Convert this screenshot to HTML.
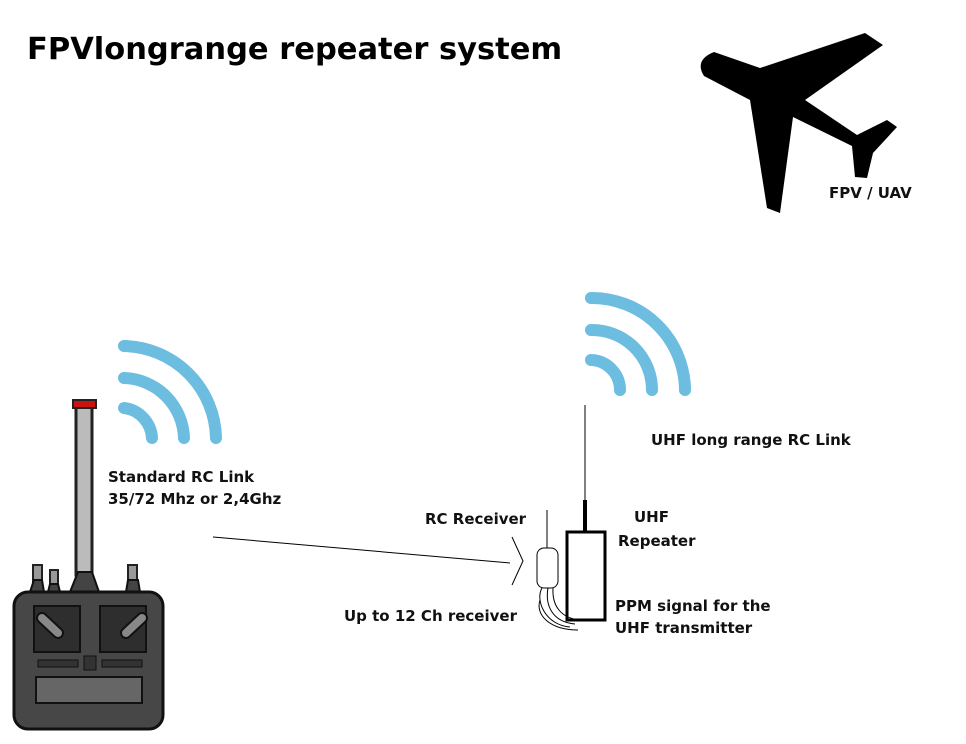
<!DOCTYPE html>
<html><head><style>
body{margin:0;width:966px;height:744px;background:#fff;overflow:hidden;position:relative;font-family:"DejaVu Sans","Liberation Sans",sans-serif}
.t{position:absolute;font-weight:bold;font-size:15px;color:#111;white-space:nowrap;line-height:22px}
</style></head><body>
<svg width="966" height="744" style="position:absolute;left:0;top:0">
<g fill="none" stroke="#6dbde0" stroke-width="12" stroke-linecap="round">
<path d="M124 408 A32 32 0 0 1 152 438"/>
<path d="M124 378 A62 62 0 0 1 184 438"/>
<path d="M124 346 A94 94 0 0 1 216 438"/>
<path d="M591 360 A30 30 0 0 1 620 390"/>
<path d="M591 330 A60 60 0 0 1 652 390"/>
<path d="M591 298 A93 93 0 0 1 685 390"/>
</g>
<path d="M714 52 L760 68 L865 33 L883 45 L805 100 L857 135 L887 120 L897 127 L873 153 L867 178 L855 177 L852 146 L793 117 L780 213 L767 208 L750 100 L704 76 Q694 60 714 52 Z" fill="#000"/>
<line x1="213" y1="537" x2="510" y2="563" stroke="#000" stroke-width="1"/>
<path d="M512 537 L523 561 L512 585" fill="none" stroke="#000" stroke-width="1"/>
<line x1="585" y1="405" x2="585" y2="502" stroke="#000" stroke-width="1"/>
<line x1="585" y1="500" x2="585" y2="532" stroke="#000" stroke-width="4"/>
<rect x="567" y="532" width="38" height="88" fill="#fff" stroke="#000" stroke-width="3"/>
<line x1="547" y1="510" x2="547" y2="548" stroke="#000" stroke-width="1"/>
<rect x="537" y="548" width="21" height="40" rx="7" fill="#fff" stroke="#000" stroke-width="1"/>
<path d="M542 588 C535 600 545 625 570 627 M548 588 C545 605 552 622 575 624 M553 588 C552 605 560 618 580 620 M540 600 C535 615 550 630 578 630" fill="none" stroke="#000" stroke-width="1"/>
<rect x="76" y="405" width="16" height="170" fill="#bbb" stroke="#222" stroke-width="3"/>
<rect x="73" y="400" width="23" height="8" fill="#c11" stroke="#222" stroke-width="2"/>
<path d="M70 592 L78 572 L92 572 L99 592 Z" fill="#444" stroke="#111" stroke-width="2"/>
<rect x="33" y="565" width="9" height="17" fill="#999" stroke="#222" stroke-width="2"/>
<rect x="50" y="570" width="8" height="14" fill="#999" stroke="#222" stroke-width="2"/>
<rect x="128" y="565" width="9" height="17" fill="#999" stroke="#222" stroke-width="2"/>
<path d="M30 592 L34 580 L42 580 L44 592 Z M48 592 L50 584 L58 584 L60 592 Z M126 592 L128 580 L138 580 L140 592 Z" fill="#444" stroke="#111" stroke-width="2"/>
<rect x="14" y="592" width="149" height="137" rx="14" fill="#474747" stroke="#111" stroke-width="3"/>
<rect x="34" y="606" width="46" height="46" fill="#2e2e2e" stroke="#111" stroke-width="2"/>
<rect x="100" y="606" width="46" height="46" fill="#2e2e2e" stroke="#111" stroke-width="2"/>
<line x1="42" y1="618" x2="58" y2="633" stroke="#111" stroke-width="12" stroke-linecap="round"/>
<line x1="42" y1="618" x2="58" y2="633" stroke="#888" stroke-width="8" stroke-linecap="round"/>
<line x1="142" y1="618" x2="126" y2="633" stroke="#111" stroke-width="12" stroke-linecap="round"/>
<line x1="142" y1="618" x2="126" y2="633" stroke="#888" stroke-width="8" stroke-linecap="round"/>
<rect x="38" y="660" width="40" height="7" fill="#333" stroke="#111"/>
<rect x="102" y="660" width="40" height="7" fill="#333" stroke="#111"/>
<rect x="84" y="656" width="12" height="14" fill="#333" stroke="#111"/>
<rect x="36" y="677" width="106" height="26" fill="#666" stroke="#111" stroke-width="2"/>
</svg>
<div class="t" style="left:27px;top:29px;font-size:30.5px;line-height:42px;font-weight:900;color:#000">FPVlongrange repeater system</div>
<div class="t" style="left:829px;top:182px">FPV / UAV</div>
<div class="t" style="left:108px;top:466px">Standard RC Link<br>35/72 Mhz or 2,4Ghz</div>
<div class="t" style="left:651px;top:429px">UHF long range RC Link</div>
<div class="t" style="left:425px;top:508px">RC Receiver</div>
<div class="t" style="left:634px;top:506px">UHF</div>
<div class="t" style="left:618px;top:530px">Repeater</div>
<div class="t" style="left:615px;top:595px">PPM signal for the<br>UHF transmitter</div>
<div class="t" style="left:344px;top:605px">Up to 12 Ch receiver</div>
</body></html>
